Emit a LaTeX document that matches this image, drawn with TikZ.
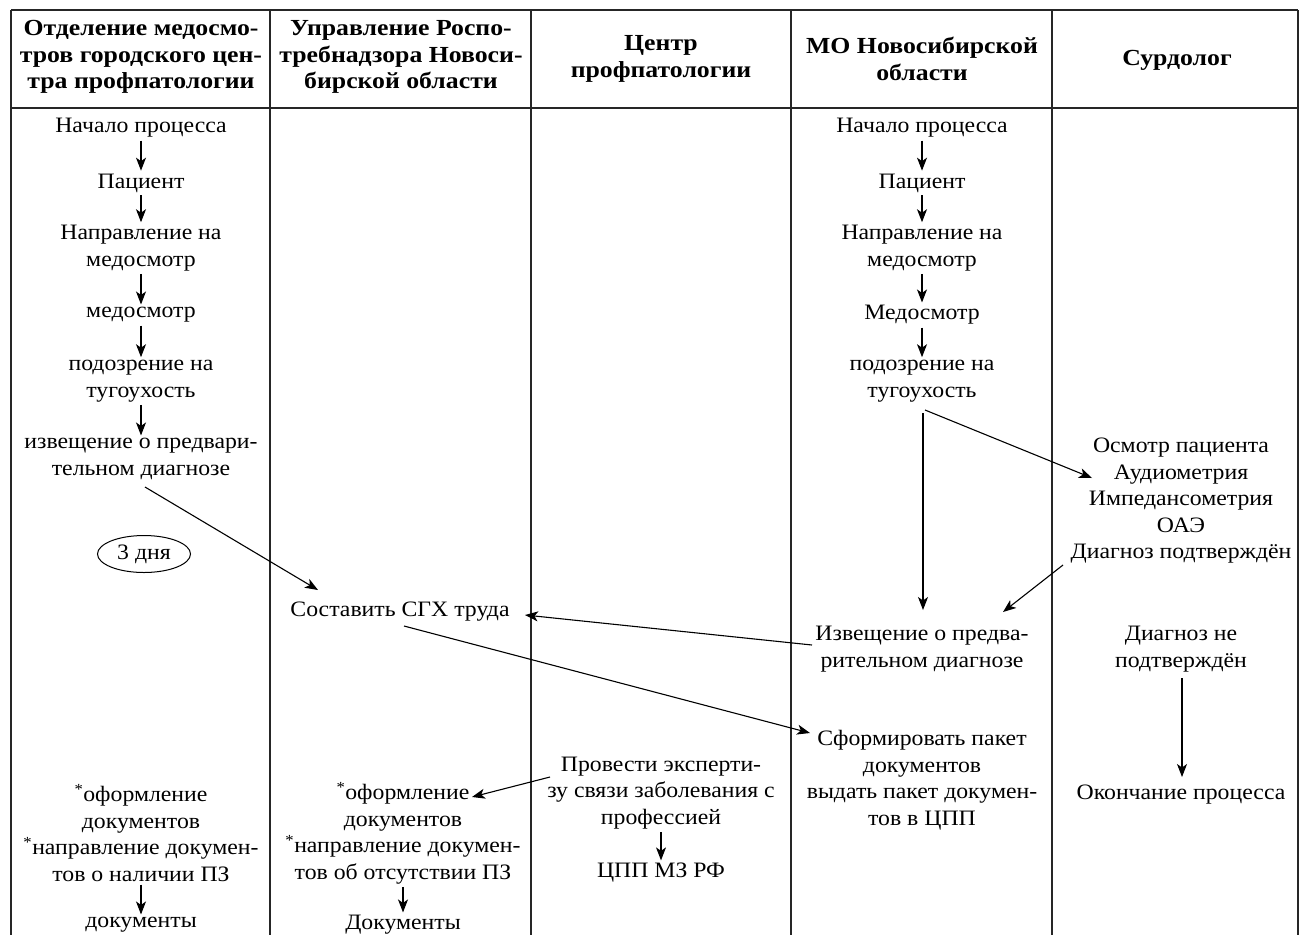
\documentclass[tikz,border=0pt]{standalone}
\usepackage{fontspec}
\setmainfont{Liberation Serif}[FakeStretch=1.08]
\newfontfamily\hdrfont{Liberation Serif}[FakeStretch=1.12]
\usetikzlibrary{arrows.meta,shapes.geometric}
\begin{document}
\begin{tikzpicture}[x=1pt,y=-1pt,
  every node/.style={inner sep=0pt,outer sep=3pt,align=center,font=\fontsize{22}{26.5}\selectfont},
  hdr/.style={font=\hdrfont\fontsize{23}{26.5}\selectfont\bfseries},
  tbl/.style={line width=1.4pt,black!85},
  arr/.style={line width=1.1pt,-{Stealth[length=13pt,width=10pt,inset=3.5pt]}},
  oval/.style={draw,ellipse,line width=1pt,minimum width=93pt,minimum height=37pt}
]
\useasboundingbox (0,0) rectangle (1300,935);
% table grid
\draw[tbl] (11,10) -- (1298,10);
\draw[tbl] (11,108) -- (1298,108);
\foreach \x in {11,270,531,791,1052,1298} \draw[tbl] (\x,10) -- (\x,935);
% header
\node[hdr] (h1) at (141,57) {Отделение медосмо-\\тров городского цен-\\тра профпатологии};
\node[hdr] (h2) at (401,57) {Управление Роспо-\\требнадзора Новоси-\\бирской области};
\node[hdr] (h3) at (661,59) {Центр\\профпатологии};
\node[hdr] (h4) at (922,59) {МО Новосибирской\\области};
\node[hdr] (h5) at (1177,60) {Сурдолог};
% column 1
\node (a1) at (141,128) {Начало процесса};
\node (a2) at (141,183) {Пациент};
\node (a3) at (141,248) {Направление на\\медосмотр};
\node (a4) at (141,315) {медосмотр};
\node (a5) at (141,381) {подозрение на\\тугоухость};
\node (a6) at (141,459) {извещение о предвари-\\тельном диагнозе};
\node[oval] (days) at (144,554) {3 дня};
\node (a7) at (141,833) {\textsuperscript{*}оформление\\документов\\\textsuperscript{*}направление докумен-\\тов о наличии ПЗ};
\node (a8) at (141,925) {документы};
% column 2
\node (b1) at (400,612) {Составить СГХ труда};
\node (b2) at (403,833) {\textsuperscript{*}оформление\\документов\\\textsuperscript{*}направление докумен-\\тов об отсутствии ПЗ};
\node (b3) at (403,925) {Документы};
% column 3
\node (c1) at (661,793) {Провести эксперти-\\зу связи заболевания с\\профессией};
\node (c2) at (661,873) {ЦПП МЗ РФ};
% column 4
\node (d1) at (922,128) {Начало процесса};
\node (d2) at (922,183) {Пациент};
\node (d3) at (922,248) {Направление на\\медосмотр};
\node (d4) at (922,315) {Медосмотр};
\node (d5) at (922,381) {подозрение на\\тугоухость};
\node (d6) at (922,649) {Извещение о предва-\\рительном диагнозе};
\node (d7) at (922,780) {Сформировать пакет\\документов\\выдать пакет докумен-\\тов в ЦПП};
% column 5
\node (e1) at (1181,501) {Осмотр пациента\\Аудиометрия\\Импедансометрия\\ОАЭ\\Диагноз подтверждён};
\node (e2) at (1181,649) {Диагноз не\\подтверждён};
\node (e3) at (1181,795) {Окончание процесса};
% connectors
\foreach \s/\t in {a1/a2,a2/a3,a3/a4,a4/a5,a5/a6,a7/a8,d1/d2,d2/d3,d3/d4,d4/d5,b2/b3,c1/c2}
  \draw[arr] (\s.south) -- (\t.north);
\draw[arr] ([shift={(4,28)}]a6.center) -- ([shift={(-82,-22)}]b1.center);
\draw[arr] ([shift={(1,32)}]d5.center) -- ([shift={(1,-39)}]d6.center);
\draw[arr] ([shift={(3,29)}]d5.center) -- ([shift={(-89,-23)}]e1.center);
\draw[arr] ([shift={(-118,64)}]e1.center) -- ([shift={(81,-37)}]d6.center);
\draw[arr] ([shift={(-110,-4)}]d6.center) -- ([shift={(125,3)}]b1.center);
\draw[arr] ([shift={(4,14)}]b1.center) -- ([shift={(-112,-47)}]d7.center);
\draw[arr] ([shift={(-111,-16)}]c1.center) -- ([shift={(69,-36)}]b2.center);
\draw[arr] ([shift={(1,29)}]e2.center) -- ([shift={(1,-18)}]e3.center);
\end{tikzpicture}
\end{document}
